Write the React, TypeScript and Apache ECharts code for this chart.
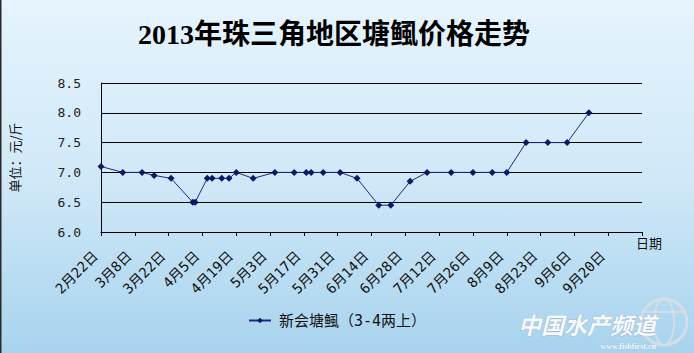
import React, { useEffect, useRef } from "react";
import * as echarts from "echarts";

const TITLE = "2013年珠三角地区塘鲺价格走势";
const SERIES_NAME = "新会塘鲺（3-4两上）";
const START_DATE = "2013-02-22";
const dates = [
  "2013-02-22", "2013-03-03", "2013-03-11", "2013-03-16", "2013-03-23",
  "2013-04-01", "2013-04-02", "2013-04-07", "2013-04-09", "2013-04-13",
  "2013-04-16", "2013-04-19", "2013-04-26", "2013-05-05", "2013-05-13",
  "2013-05-18", "2013-05-20", "2013-05-25", "2013-06-01", "2013-06-08",
  "2013-06-17", "2013-06-22", "2013-06-30", "2013-07-07", "2013-07-17",
  "2013-07-26", "2013-08-03", "2013-08-09", "2013-08-17", "2013-08-26",
  "2013-09-03", "2013-09-12",
];
const prices = [
  7.1, 7.0, 7.0, 6.95, 6.9,
  6.5, 6.5, 6.9, 6.9, 6.9,
  6.9, 7.0, 6.9, 7.0, 7.0,
  7.0, 7.0, 7.0, 7.0, 6.9,
  6.45, 6.45, 6.85, 7.0, 7.0,
  7.0, 7.0, 7.0, 7.5, 7.5,
  7.5, 8.0,
];
const X_SPAN_DAYS = 224;
const X_STEP_DAYS = 14;
const Y_MIN = 6.0;
const Y_MAX = 8.5;
const Y_STEP = 0.5;

const DAY = 86400000;

export default function App() {
  const ref = useRef<HTMLDivElement>(null);
  useEffect(() => {
    if (!ref.current) return;
    const chart = echarts.init(ref.current, undefined, { renderer: "svg" });
    const start = Date.parse(START_DATE);
    const data = dates.map((d, i) => [(Date.parse(d) - start) / DAY, prices[i]]);
    const fmtDay = (v: number) => {
      if (v >= X_SPAN_DAYS) return "";
      const dt = new Date(start + v * DAY);
      return `${dt.getUTCMonth() + 1}月${dt.getUTCDate()}日`;
    };
    chart.setOption({
      animation: false,
      backgroundColor: {
        type: "linear", x: 0, y: 0, x2: 0, y2: 1,
        colorStops: [
          { offset: 0, color: "#e6f4fd" },
          { offset: 0.5, color: "#d0e9f8" },
          { offset: 1, color: "#a8d3ee" },
        ],
      },
      grid: { left: 100, right: 52, top: 83, bottom: 121 },
      legend: {
        left: 243, top: 308,
        itemWidth: 22, itemHeight: 7,
        textStyle: {
          fontSize: 15, color: "#111",
          fontFamily: "'DejaVu Sans Mono', 'Noto Sans CJK SC'", padding: [0, 0, 0, 3],
        },
        data: [SERIES_NAME],
      },
      xAxis: {
        type: "value", min: 0, max: X_SPAN_DAYS, interval: X_STEP_DAYS,
        axisLine: { lineStyle: { color: "#000", width: 1 } },
        axisTick: { show: true, length: 4, lineStyle: { color: "#000" } },
        splitLine: { show: false },
        axisLabel: {
          rotate: 45, margin: 16, formatter: fmtDay, color: "#111", fontSize: 14,
          fontFamily: "'DejaVu Sans Mono', 'Noto Sans CJK SC'",
          padding: [0, 8, 0, 0],
          showMaxLabel: true,
        },
      },
      yAxis: {
        type: "value", min: Y_MIN, max: Y_MAX, interval: Y_STEP,
        name: "单位：元/斤", nameLocation: "middle", nameGap: 80,
        nameTextStyle: { fontSize: 13, color: "#111", fontFamily: "Noto Sans CJK SC" },
        axisLine: { show: true, lineStyle: { color: "#000", width: 1 } },
        axisTick: { show: false },
        splitLine: { lineStyle: { color: "#000", width: 1 } },
        axisLabel: {
          margin: 20, color: "#222", fontSize: 13, fontFamily: "DejaVu Sans Mono",
          formatter: (v: number) => v.toFixed(1),
        },
      },
      series: [{
        name: SERIES_NAME, type: "line", data,
        symbol: "diamond", symbolSize: 7,
        lineStyle: { color: "#1c2a7a", width: 1 },
        itemStyle: { color: "#0b1a66" },
      }],
      graphic: [
        { type: "rect", shape: { x: 0, y: 0, width: 1.5, height: 353 }, style: { fill: "#2a2a2a" } },
        {
          type: "text", x: 334, y: 34,
          style: {
            text: TITLE, textAlign: "center", textVerticalAlign: "middle",
            font: "bold 28px 'Liberation Serif', 'Noto Sans CJK SC'", fill: "#000",
          },
        },
        {
          type: "text", x: 636, y: 236,
          style: { text: "日期", font: "13px 'Noto Sans CJK SC'", fill: "#111" },
        },
        {
          type: "circle", shape: { cx: 664, cy: 322, r: 23 },
          style: { fill: "none", stroke: "rgba(215,222,230,0.85)", lineWidth: 3 },
        },
        {
          type: "ellipse", shape: { cx: 664, cy: 322, rx: 10, ry: 23 },
          style: { fill: "none", stroke: "rgba(215,222,230,0.8)", lineWidth: 2 },
        },
        {
          type: "line", shape: { x1: 643, y1: 312, x2: 686, y2: 312 },
          style: { stroke: "rgba(215,222,230,0.8)", lineWidth: 2 },
        },
        {
          type: "text", x: 656, y: 312,
          style: {
            text: "中国水产频道", textAlign: "right",
            font: "italic bold 23px 'Noto Sans CJK SC'",
            fill: "rgba(255,255,255,0.92)", stroke: "rgba(150,170,190,0.6)", lineWidth: 1,
          },
        },
        {
          type: "text", x: 656, y: 342,
          style: {
            text: "www.fishfirst.cn", textAlign: "right",
            font: "bold 8px 'Liberation Serif'",
            fill: "rgba(255,255,255,0.9)", stroke: "rgba(150,170,190,0.5)", lineWidth: 0.5,
          },
        },
      ],
    });
    return () => chart.dispose();
  }, []);
  return (
    <div
      ref={ref}
      style={{ position: "fixed", left: 0, top: 0, width: 694, height: 353 }}
    />
  );
}
